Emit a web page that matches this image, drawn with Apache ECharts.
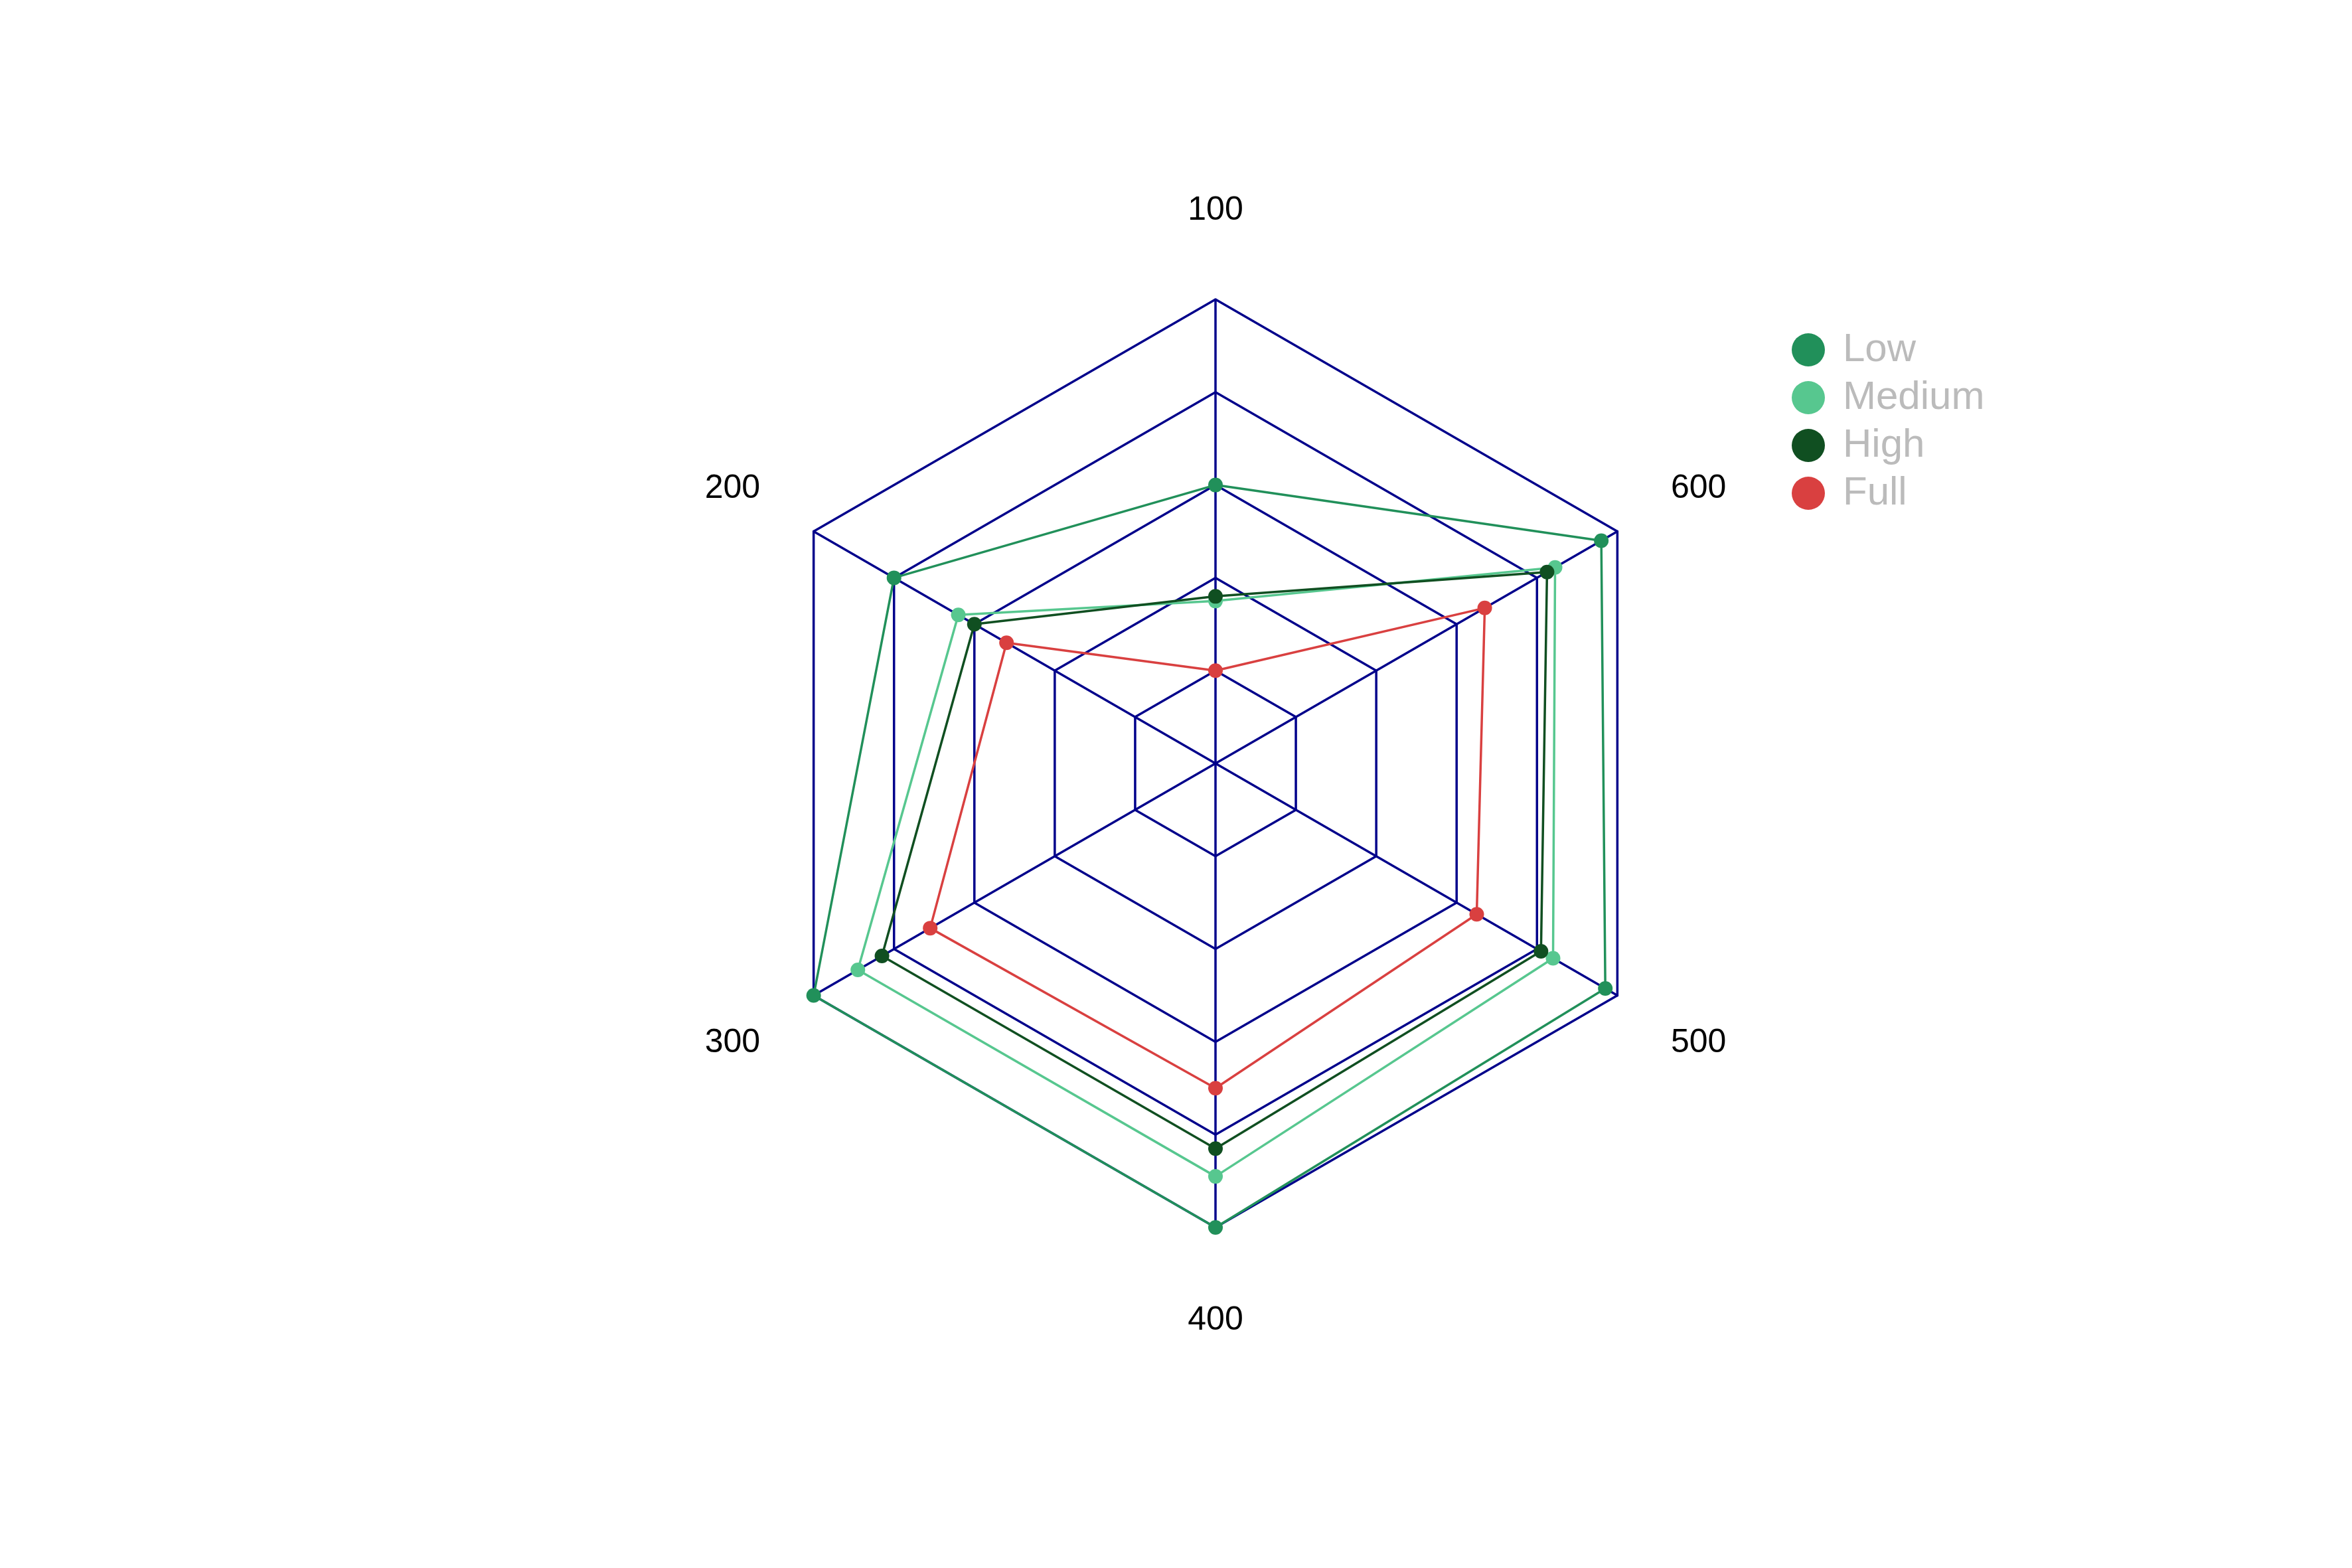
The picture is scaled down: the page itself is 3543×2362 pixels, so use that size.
<!DOCTYPE html>
<html>
<head>
<meta charset="utf-8">
<script src="https://cdn.jsdelivr.net/npm/echarts@6/dist/echarts.min.js"></script>
<style>html,body{margin:0;padding:0;background:#fff;}#c{width:3543px;height:2362px;}</style>
</head>
<body>
<div id="c"></div>
<script>
const indicators = ['100', '200', '300', '400', '500', '600'];
const maxValue = 100;
const seriesNames = ['Low', 'Medium', 'High', 'Full'];
const lowValues = [60, 80, 100, 100, 97, 96];
const mediumValues = [35, 64, 89, 89, 84, 84.5];
const highValues = [36, 60, 83, 83, 81, 82.5];
const fullValues = [20, 52, 71, 70, 65, 67];
const colors = ['#21905a', '#57c78f', '#104f21', '#d94040'];

const allValues = [lowValues, mediumValues, highValues, fullValues];
const nameKeys = ['t', 'u', 'l', 'b', 'l', 'u'];
const baseName = {color: '#000000', fontSize: 50, fontFamily: 'Liberation Sans'};
const chart = echarts.init(document.getElementById('c'), null, {renderer: 'canvas'});
chart.setOption({
  animation: false,
  backgroundColor: '#ffffff',
  color: colors,
  legend: {
    orient: 'vertical',
    left: 2694,
    top: 492,
    icon: 'circle',
    itemWidth: 50,
    itemHeight: 50,
    itemGap: 12,
    data: seriesNames,
    textStyle: {color: '#bbbbbb', fontSize: 60, fontFamily: 'Liberation Sans', padding: [0, 0, 0, 22], lineHeight: 50}
  },
  radar: {
    center: [1831, 1150],
    radius: 699,
    startAngle: 90,
    shape: 'polygon',
    splitNumber: 5,
    indicator: indicators.map(n => ({name: n, max: maxValue, min: 0})),
    axisName: {
      color: '#000000', fontSize: 50, fontFamily: 'Liberation Sans',
      formatter: function (name) {
        const k = nameKeys[indicators.indexOf(name)];
        return '{' + k + '|' + name + '}';
      },
      rich: {
        t: Object.assign({lineHeight: 82}, baseName),
        b: Object.assign({lineHeight: 50, padding: [44, 0, 0, 0]}, baseName),
        u: Object.assign({lineHeight: 50, padding: [0, 0, 36, 0]}, baseName),
        l: Object.assign({lineHeight: 50, padding: [50, 0, 0, 0]}, baseName)
      }
    },
    nameGap: 93,
    splitArea: {show: false},
    splitLine: {lineStyle: {color: '#00008b', width: 3.5}},
    axisLine: {lineStyle: {color: '#00008b', width: 3.5}}
  },
  series: [{
    type: 'radar',
    symbol: 'circle',
    symbolSize: 22,
    lineStyle: {width: 3.5},
    data: seriesNames.map((name, i) => ({
      name: name,
      value: allValues[i],
      itemStyle: {color: colors[i]},
      lineStyle: {color: colors[i], width: 3.5}
    }))
  }]
});
</script>
</body>
</html>
